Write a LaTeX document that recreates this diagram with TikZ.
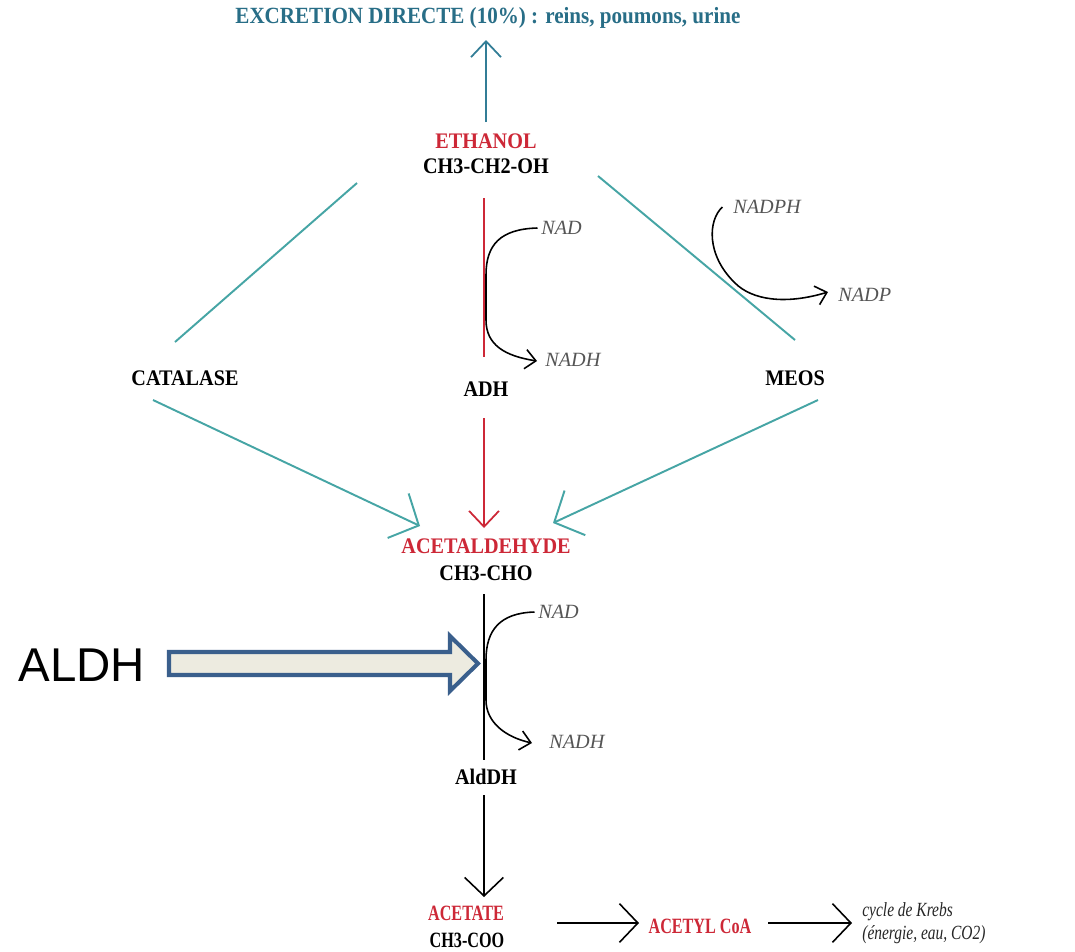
\documentclass[tikz,border=0pt]{standalone}
\usepackage{fontspec}
\usepackage{graphicx}
\setmainfont{Liberation Serif}
\newfontfamily\arialf{Liberation Sans}
\usetikzlibrary{arrows.meta}
\definecolor{redc}{RGB}{205,40,55}
\definecolor{tealc}{RGB}{70,165,165}
\definecolor{bluetxt}{RGB}{40,110,135}
\definecolor{blueln}{RGB}{50,125,150}
\definecolor{grayc}{RGB}{85,85,85}
\definecolor{arrfill}{RGB}{237,235,224}
\definecolor{arrborder}{RGB}{58,95,140}
\newcommand\vst[2]{\scalebox{1}[#1]{#2}}
\begin{document}
\begin{tikzpicture}[x=0.02cm,y=-0.02cm,
 lbl/.style={font=\fontsize{11.5}{13}\selectfont\bfseries, inner sep=0pt},
 rlbl/.style={lbl, text=redc},
 sml/.style={font=\fontsize{9.2}{11}\selectfont\bfseries, inner sep=0pt},
 co/.style={font=\fontsize{11.5}{13}\selectfont\itshape, text=grayc, inner sep=0pt, anchor=west},
 kr/.style={font=\fontsize{8.8}{10}\selectfont\itshape, text=black!85, inner sep=0pt, anchor=west},
 bigbarb/.style={-{Straight Barb[length=9pt,width=17pt]}},
 hbarb/.style={-{Straight Barb[length=10.5pt,width=22pt]}},
 tealbarb/.style={-{Straight Barb[length=13pt,width=28pt]}},
 smbarb/.style={-{Straight Barb[length=6pt,width=11pt]}},
 tl/.style={draw=tealc, line width=1.1pt},
 bl/.style={draw=black, line width=0.9pt},
]
\useasboundingbox (0,0) rectangle (1075,951);
\fill[white] (0,0) rectangle (1075,951);

% nodes
\node[font=\fontsize{12}{14}\selectfont\bfseries, text=bluetxt, inner sep=0pt] (exc) at (488,18) {\vst{1.1}{EXCRETION DIRECTE (10\%) : reins, poumons, urine}};
\node[rlbl] (eth) at (486,141) {\vst{1.1}{ETHANOL}};
\node[lbl] (ethf) at (486,166) {\vst{1.1}{CH3-CH2-OH}};
\node[lbl] (adh) at (486,389) {\vst{1.1}{ADH}};
\node[lbl] (cat) at (185,378) {\vst{1.1}{CATALASE}};
\node[lbl] (meos) at (795,378) {\vst{1.1}{MEOS}};
\node[rlbl] (acd) at (486,546) {\vst{1.1}{ACETALDEHYDE}};
\node[lbl] (acdf) at (486,573) {\vst{1.1}{CH3-CHO}};
\node[lbl] (alddh) at (486,777) {\vst{1.1}{AldDH}};
\node[sml, text=redc] (act) at (466,913) {\vst{1.35}{ACETATE}};
\node[sml] (actf) at (467,940) {\vst{1.35}{CH3-COO}};
\node[sml, text=redc] (acoa) at (700,926) {\vst{1.35}{ACETYL CoA}};
\node[kr] (krebs1) at (862,912) {\vst{1.3}{cycle de Krebs}};
\node[kr] (krebs2) at (862,935) {\vst{1.3}{(énergie, eau, CO2)}};

\node[co] (nad1) at (541,228) {NAD};
\node[co] (nadh1) at (545,360) {NADH};
\node[co] (nadph) at (733,207) {NADPH};
\node[co] (nadp) at (838,295) {NADP};
\node[co] (nad2) at (538,612) {NAD};
\node[co] (nadh2) at (549,742) {NADH};

\node[font=\arialf\fontsize{27}{30}\selectfont, inner sep=0pt] (ald) at (82,665) {ALDH};

% coordinates
\coordinate (upS) at (486,122);
\coordinate (upE) at (486,40);
\coordinate (rS) at (484,198);
\coordinate (rE) at (484,357);
\coordinate (r2S) at (484,418);
\coordinate (r2E) at (484,528);
\coordinate (tlA) at (357,183);
\coordinate (tlB) at (175,342);
\coordinate (trA) at (598,176);
\coordinate (trB) at (795,340);
\coordinate (catS) at (153,400);
\coordinate (catE) at (420,526);
\coordinate (meoS) at (818,400);
\coordinate (meoE) at (553,523);
\coordinate (bS) at (484,594);
\coordinate (bE) at (484,760);
\coordinate (b2S) at (484,795);
\coordinate (b2E) at (484,897);
\coordinate (h1S) at (557,923);
\coordinate (h1E) at (639,923);
\coordinate (h2S) at (768,923);
\coordinate (h2E) at (852,923);

% connectors
\draw[blueln, line width=1pt, bigbarb] (upS) -- (upE);
\draw[redc, line width=1pt] (rS) -- (rE);
\draw[redc, line width=1pt, bigbarb] (r2S) -- (r2E);
\draw[tl] (tlA) -- (tlB);
\draw[tl] (trA) -- (trB);
\draw[tl, tealbarb] (catS) -- (catE);
\draw[tl, tealbarb] (meoS) -- (meoE);
\draw[bl] (bS) -- (bE);
\draw[bl, hbarb] (b2S) -- (b2E);
\draw[bl, hbarb] (h1S) -- (h1E);
\draw[bl, hbarb] (h2S) -- (h2E);

% cofactor curves
\draw[bl, smbarb] ([xshift=-2pt]nad1.west) .. controls (500,229) and (486,245) .. (486,275)
   -- (486,320) .. controls (486,345) and (505,356) .. (537,361);
\draw[bl, smbarb] ([xshift=-2pt]nad2.west) .. controls (500,613) and (486,630) .. (486,660)
   -- (486,700) .. controls (486,722) and (505,737) .. (532,743);
\draw[bl, smbarb] ([xshift=-6pt]nadph.west) .. controls (708,220) and (706,255) .. (735,283)
   .. controls (752,300) and (785,305) .. (828,292);

% block arrow
\draw[arrborder, fill=arrfill, line width=2.3pt, line join=miter]
  (169,652) -- (450,652) -- (450,636) -- (478,663.5) -- (450,691) -- (450,675) -- (169,675) -- cycle;
\end{tikzpicture}
\end{document}
